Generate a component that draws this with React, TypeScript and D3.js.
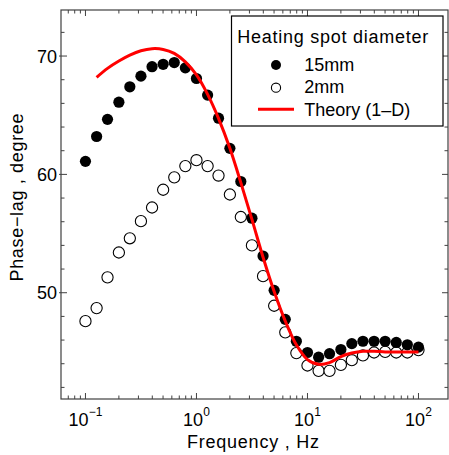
import React from "react";
import * as d3 from "d3";

// frequencies (Hz), 10 points per decade
const freqs = [
  0.1, 0.126, 0.158, 0.2, 0.251, 0.316, 0.398, 0.501, 0.631, 0.794, 1, 1.26,
  1.58, 2, 2.51, 3.16, 3.98, 5.01, 6.31, 7.94, 10, 12.6, 15.8, 20, 25.1, 31.6,
  39.8, 50.1, 63.1, 79.4, 100,
];
const spot15 = [
  61.1, 63.2, 64.65, 66.1, 67.4, 68.3, 69.1, 69.3, 69.45, 69.0, 68.1, 66.7,
  64.75, 62.2, 59.4, 56.3, 53.1, 50.2, 47.75, 45.9, 44.95, 44.55, 44.85, 45.2,
  45.7, 45.9, 45.9, 45.9, 45.8, 45.6, 45.4,
];
const spot2 = [
  47.6, 48.7, 51.3, 53.4, 54.6, 56.05, 57.2, 58.7, 59.75, 60.7, 61.2, 60.7,
  59.9, 58.3, 56.4, 54.0, 51.4, 48.9, 46.65, 44.9, 43.85, 43.4, 43.4, 43.9,
  44.3, 44.7, 44.95, 45.0, 44.95, 44.95, 45.15,
];
const theoryFreq = freqs.slice(1);
const theoryPhase = [
  68.2, 68.96, 69.58, 70.08, 70.45, 70.62, 70.56, 70.22, 69.5, 68.4, 66.76,
  64.73, 62.2, 59.3, 56.2, 53.0, 50.1, 47.6, 45.6, 44.35, 43.95, 44.1, 44.6,
  44.9, 45.05, 45.05, 45.0, 45.0, 45.0, 45.0,
];
const xMajor = [0.1, 1, 10, 100];
const xMajorExp = ["\u22121", "0", "1", "2"];
const yMajor = [50, 60, 70];
const legendItems = ["15mm", "2mm", "Theory (1\u2013D)"];

const W = 449;
const H = 455;
const left = 61, right = 448, top = 10, bottom = 399;
const font = "Liberation Sans, Arial, Helvetica, sans-serif";
const axisColor = "#404040";

export default function App() {
  const x = d3.scaleLog().domain([0.0602, 184.5]).range([left, right]);
  const y = d3.scaleLinear().domain([41.02, 73.89]).range([bottom, top]);

  const [x0, x1] = x.domain();
  const xMinor = x.ticks().filter((t) => t > x0 && t < x1 && !xMajor.includes(t));
  const yMinor = d3.range(42, 74, 2).filter((t) => !yMajor.includes(t));

  const line = d3
    .line<number>()
    .x((d, i) => x(theoryFreq[i]))
    .y((d) => y(d))
    .curve(d3.curveCatmullRom.alpha(0.5));

  return (
    <svg
      width={W}
      height={H}
      style={{ position: "absolute", left: 0, top: 0, background: "#fff" }}
      fontFamily={font}
    >
      {/* open circles (2mm) */}
      {spot2.map((v, i) => (
        <circle key={"o" + i} cx={x(freqs[i])} cy={y(v)} r={5.6} fill="#fff" stroke="#000" strokeWidth={1.1} />
      ))}
      {/* filled circles (15mm) */}
      {spot15.map((v, i) => (
        <circle key={"f" + i} cx={x(freqs[i])} cy={y(v)} r={5.6} fill="#000" />
      ))}
      <path d={line(theoryPhase) || ""} fill="none" stroke="#ff0000" strokeWidth={3} />

      {/* frame */}
      <rect x={left} y={top} width={right - left} height={bottom - top} fill="none" stroke={axisColor} strokeWidth={1.2} />

      {/* x ticks */}
      {xMajor.map((t) => (
        <g key={"xm" + t}>
          <line x1={x(t)} x2={x(t)} y1={bottom} y2={bottom - 6} stroke={axisColor} />
          <line x1={x(t)} x2={x(t)} y1={top} y2={top + 6} stroke={axisColor} />
        </g>
      ))}
      {xMinor.map((t) => (
        <g key={"xn" + t}>
          <line x1={x(t)} x2={x(t)} y1={bottom} y2={bottom - 3.5} stroke={axisColor} />
          <line x1={x(t)} x2={x(t)} y1={top} y2={top + 3.5} stroke={axisColor} />
        </g>
      ))}
      {xMajor.map((t, i) => (
        <text key={"xl" + t} x={x(t)} y={425.7} fontSize={18} textAnchor="middle" fill="#000">
          <tspan>10</tspan>
          <tspan fontSize={12} dy={-10}>{xMajorExp[i]}</tspan>
        </text>
      ))}

      {/* y ticks */}
      {yMajor.map((t) => (
        <g key={"ym" + t}>
          <line x1={left - 2} x2={left + 6} y1={y(t)} y2={y(t)} stroke={axisColor} />
          <line x1={right} x2={right - 6} y1={y(t)} y2={y(t)} stroke={axisColor} />
          <text x={57} y={y(t) + 6.5} fontSize={18} textAnchor="end" fill="#000">
            {t}
          </text>
        </g>
      ))}
      {yMinor.map((t) => (
        <g key={"yn" + t}>
          <line x1={left} x2={left + 3.5} y1={y(t)} y2={y(t)} stroke={axisColor} />
          <line x1={right} x2={right - 3.5} y1={y(t)} y2={y(t)} stroke={axisColor} />
        </g>
      ))}

      {/* axis titles */}
      <text x={253} y={448.3} fontSize={18} textAnchor="middle" textLength={132} lengthAdjust="spacing" fill="#000">
        Frequency , Hz
      </text>
      <text
        transform="translate(23,197.5) rotate(-90)"
        fontSize={18}
        textAnchor="middle"
        textLength={168}
        lengthAdjust="spacing"
        fill="#000"
      >
        Phase{"\u2212"}lag , degree
      </text>

      {/* legend */}
      <g>
        <rect x={231.5} y={16} width={211.5} height={110} fill="#fff" stroke="#000" strokeWidth={1.2} />
        <text x={237.3} y={43.3} fontSize={18} textLength={191} lengthAdjust="spacing" fill="#000">
          Heating spot diameter
        </text>
        <circle cx={276} cy={65} r={5} fill="#000" />
        <circle cx={276} cy={87.7} r={4.6} fill="#fff" stroke="#000" strokeWidth={1.1} />
        <line x1={258} x2={294} y1={109.3} y2={109.3} stroke="#ff0000" strokeWidth={3} />
        {legendItems.map((s, i) => (
          <text key={s} x={304.3} y={[70.7, 92.7, 116][i]} fontSize={18} fill="#000">
            {s}
          </text>
        ))}
      </g>
    </svg>
  );
}
